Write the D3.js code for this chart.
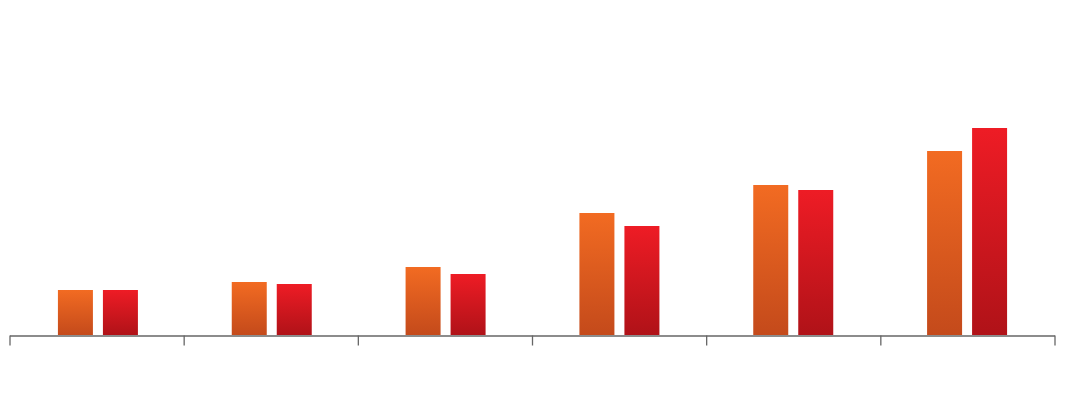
<!DOCTYPE html>
<html>
<head>
<meta charset="utf-8">
<script src="https://cdn.jsdelivr.net/npm/d3@7"></script>
<style>
  body { margin: 0; background: #fff; }
</style>
</head>
<body>
<div id="chart"></div>
<script>

// categories and series (arbitrary units)
var categories = ["1", "2", "3", "4", "5", "6"];
var seriesNames = ["orange", "red"];
var orangeValues = [45, 53, 68, 122, 150, 184];
var redValues = [45, 51, 61, 109, 145, 207];
var yMax = 325;

var width = 1066, height = 396;

var svg = d3.select("#chart").append("svg")
    .attr("width", width)
    .attr("height", height);

// gradients for the bars
var defs = svg.append("defs");
var grads = [
    {id: "gradOrange", top: "#f26b22", bottom: "#c44a1b"},
    {id: "gradRed", top: "#ee1c25", bottom: "#b01218"}
];
grads.forEach(function(g){
    var lg = defs.append("linearGradient")
        .attr("id", g.id)
        .attr("x1", 0).attr("y1", 0)
        .attr("x2", 0).attr("y2", 1);
    lg.append("stop").attr("offset", "0%").attr("stop-color", g.top);
    lg.append("stop").attr("offset", "100%").attr("stop-color", g.bottom);
});

var y = d3.scaleLinear()
    .domain([0, yMax])
    .range([335, 10]);

// group positions
var x0 = d3.scaleBand()
    .domain(categories)
    .range([11, 1054]);

var groupWidth = 80;
var x1 = d3.scaleBand()
    .domain(seriesNames)
    .range([0, groupWidth])
    .paddingInner(2 - groupWidth / 45);

var data = categories.map(function(c, i){
    return {cat: c, values: [
        {name: "orange", value: orangeValues[i], fill: "url(#gradOrange)"},
        {name: "red", value: redValues[i], fill: "url(#gradRed)"}
    ]};
});

var groups = svg.selectAll(".group")
    .data(data)
    .enter().append("g")
    .attr("class", "group")
    .attr("transform", function(d){
        return "translate(" + (x0(d.cat) + (x0.bandwidth() - groupWidth) / 2) + ",0)";
    });

groups.selectAll("rect")
    .data(function(d){ return d.values; })
    .enter().append("rect")
    .attr("x", function(d){ return x1(d.name); })
    .attr("width", x1.bandwidth())
    .attr("y", function(d){ return y(d.value); })
    .attr("height", function(d){ return y(0) - y(d.value); })
    .attr("fill", function(d){ return d.fill; });

// axis with ticks on the category boundaries
var xTicks = d3.scaleLinear()
    .domain([0, categories.length])
    .range([9.5, 1054.5]);

var axis = svg.append("g")
    .attr("transform", "translate(0," + 335.5 + ")")
    .call(d3.axisBottom(xTicks)
        .tickValues(d3.range(categories.length + 1))
        .tickSize(10)
        .tickSizeOuter(0)
        .tickFormat(""));

axis.selectAll("path, line")
    .attr("stroke", "#666")
    .attr("stroke-width", 1.3);

</script>
</body>
</html>
